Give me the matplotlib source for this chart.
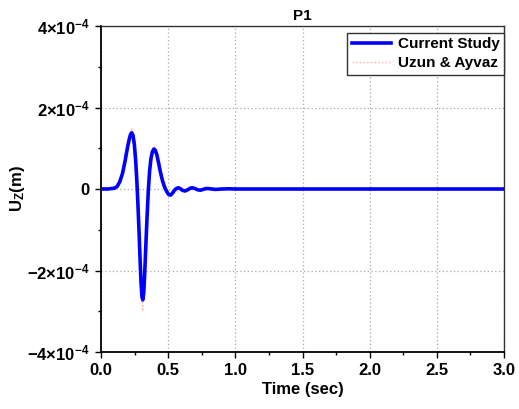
import numpy as np
import matplotlib
matplotlib.use('Agg')
import matplotlib.pyplot as plt
from matplotlib.ticker import MultipleLocator

plt.rcParams['font.family'] = ['Liberation Sans', 'DejaVu Sans']
plt.rcParams['font.weight'] = 'bold'
plt.rcParams['mathtext.fontset'] = 'custom'
plt.rcParams['mathtext.rm'] = 'Liberation Sans:bold'
plt.rcParams['mathtext.bf'] = 'Liberation Sans:bold'
plt.rcParams['mathtext.it'] = 'Liberation Sans:bold'
plt.rcParams['mathtext.default'] = 'bf'

# current study (time in s, displacement in 1e-4 m)
t_cur = [0.0, 0.05, 0.10, 0.12, 0.14, 0.16, 0.18, 0.195, 0.21, 0.22, 0.229, 0.238,
         0.248, 0.258, 0.266, 0.274, 0.282, 0.29, 0.298, 0.305, 0.311, 0.318, 0.325,
         0.333, 0.342, 0.352, 0.362, 0.372, 0.383, 0.393, 0.403, 0.415, 0.428, 0.442,
         0.458, 0.474, 0.49, 0.505, 0.518, 0.53, 0.545, 0.56, 0.575, 0.59, 0.605,
         0.625, 0.645, 0.665, 0.68, 0.70, 0.72, 0.74, 0.76, 0.78, 0.80, 0.85, 0.90,
         0.95, 1.0, 1.2, 1.5, 2.0, 2.5, 3.0]
u_cur = [0.0, 0.0, 0.02, 0.06, 0.18, 0.38, 0.7, 0.98, 1.22, 1.34, 1.38, 1.32,
         1.1, 0.7, 0.25, -0.3, -0.95, -1.65, -2.3, -2.65, -2.72, -2.55, -2.1,
         -1.45, -0.75, -0.05, 0.45, 0.75, 0.92, 0.98, 0.96, 0.85, 0.65, 0.42,
         0.2, 0.04, -0.07, -0.14, -0.15, -0.11, -0.04, 0.01, 0.03, 0.01, -0.03,
         -0.05, -0.02, 0.02, 0.03, 0.01, -0.02, -0.03, -0.01, 0.01, 0.01, -0.01, 0.0,
         0.005, 0.0, 0.0, 0.0, 0.0, 0.0, 0.0]

# Uzun & Ayvaz
t_ref = [0.0, 0.10, 0.16, 0.20, 0.229, 0.26, 0.27, 0.295, 0.311, 0.335, 0.353,
         0.385, 0.398, 0.44, 0.49, 0.515, 0.60, 0.80, 1.0, 3.0]
u_ref = [0.0, 0.02, 0.37, 1.2, 1.5, 0.6, 0.0, -2.2, -3.0, -1.3, 0.0,
         0.95, 1.05, 0.5, 0.0, -0.15, -0.03, 0.0, 0.0, 0.0]

fig = plt.figure(figsize=(5.19, 4.09), dpi=100)
ax = fig.add_axes([101/519, 1-352/409, 403/519, 326/409])

l2, = ax.plot(t_ref, np.array(u_ref)*1e-4, color='#ffb3b3', ls=':', lw=1.0, zorder=2)
l1, = ax.plot(t_cur, np.array(u_cur)*1e-4, color='#0000ff', lw=2.6, zorder=3)

ax.set_xlim(0, 3.0)
ax.set_ylim(-4e-4, 4e-4)
ax.set_xticks(np.arange(0, 3.01, 0.5))
ax.set_xticklabels(['%.1f' % v for v in np.arange(0, 3.01, 0.5)])
ax.xaxis.set_minor_locator(MultipleLocator(0.25))
yt = [-4e-4, -2e-4, 0, 2e-4, 4e-4]
ax.set_yticks(yt)
ax.set_yticklabels([r'$\mathbf{-4{\times}10^{-4}}$', r'$\mathbf{-2{\times}10^{-4}}$', '0',
                    r'$\mathbf{2{\times}10^{-4}}$', r'$\mathbf{4{\times}10^{-4}}$'])
ax.yaxis.set_minor_locator(MultipleLocator(1e-4))

ax.grid(True, which='major', ls=(0, (1, 2)), color='#aaaaaa', lw=0.9)
ax.tick_params(which='major', direction='out', length=4, width=1, labelsize=12, pad=4)
ax.tick_params(which='minor', direction='out', length=2, width=1)
for s in ['left', 'bottom']:
    ax.spines[s].set_linewidth(1.3)
for s in ['top', 'right']:
    ax.spines[s].set_linewidth(1.0)
    ax.spines[s].set_color('#333333')

ax.set_xlabel('Time (sec)', fontsize=12, fontweight='bold', labelpad=3)
ax.set_ylabel(r'U$_\mathbf{Z}$(m)', fontsize=12, fontweight='bold', labelpad=0)
ax.set_title('P1', fontsize=11, fontweight='bold', pad=4)

leg = ax.legend([l1, l2], ['Current Study', 'Uzun & Ayvaz'], loc='upper right',
                bbox_to_anchor=(1.0, 0.98), fancybox=False, framealpha=1,
                edgecolor='#333333', prop={'weight': 'bold', 'size': 11},
                handlelength=2.6, borderaxespad=0, borderpad=0.3, labelspacing=0.35,
                handletextpad=0.4)
leg.get_frame().set_linewidth(1.0)

fig.savefig('out.png', dpi=100)
